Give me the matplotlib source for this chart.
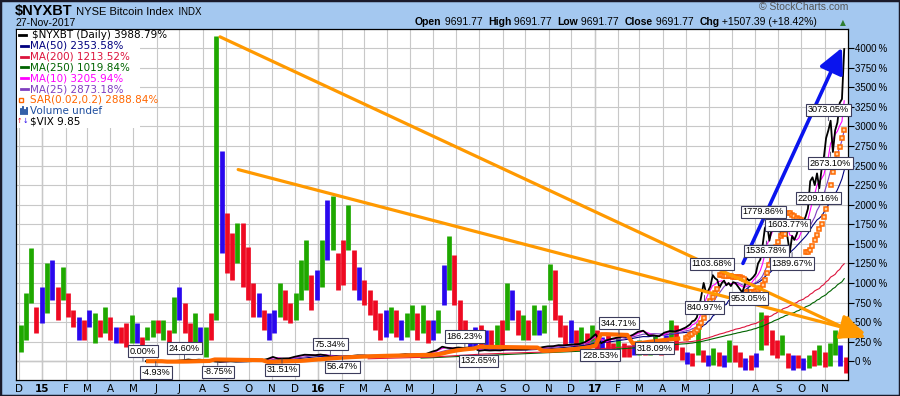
import matplotlib
matplotlib.use("Agg")
import matplotlib.pyplot as plt
import matplotlib.ticker as mticker
import matplotlib.transforms as mtransforms
from matplotlib.lines import Line2D
from matplotlib.patches import Rectangle
import numpy as np
import pandas as pd

# $NYXBT, % change since launch: weekly to Apr-2017, then every 3 days
nyx_weekly = [0, -1, -4, -5, 0, 0, 6, 12, 22, 14, 20, 15, 10, -3, -8, -5, -1, -5, -4, -2,
              1, 8, 13, 29, 55, 32, 36, 36, 55, 70, 83, 80, 77,
              85, 75, 57, 62, 54, 56, 68, 75, 74, 70, 71, 70, 72, 73, 74, 82, 90,
              85, 87, 85, 94, 120, 140, 185, 170, 165, 175, 170, 175, 170,
              133, 142, 137, 140, 138, 150, 150, 148, 149, 152, 164, 165, 180, 190,
              192, 205, 203, 210, 215, 220, 245, 285,
              345, 229, 265, 285, 300, 315, 310, 335, 375, 390, 330, 330, 318,
              365, 385, 380, 400]
nyx_recent = [430, 450, 470, 510, 520, 560, 690, 840, 1000, 880, 900, 960, 1100, 1060,
              1040, 940, 1000, 1030, 970, 1000, 960, 1010, 1000, 960, 920, 880, 960,
              1060, 1030, 1050, 1080, 1120, 1250, 1300, 1480, 1700, 1750, 1540, 1690,
              1780, 1800, 1900, 1620, 1760, 1700, 1580, 1390, 1600, 1550, 1620, 1720,
              1750, 1780, 1850, 1950, 2300, 2350, 2250, 2400, 2210, 2450, 2600, 2850,
              2950, 3073, 2673, 2950, 3050, 3300, 3350, 3989]

# $VIX overlay, weekly high / low on the % scale, bar colour g/r/b
vix_high = [459, 867, 1441, 689, 944, 1250, 1288, 944, 1199, 867,
            650, 561, 523, 650, 612, 523, 689, 561, 434, 434,
            485, 587, 485, 306, 434, 523, 523, 523, 395, 816,
            944, 740, 485, 612, 434, 434, 612, 4158, 2691, 1888,
            1633, 1760, 1760, 1454, 995, 867, 650, 612, 650, 995,
            906, 740, 867, 1288, 1543, 1097, 1160, 1543, 2054, 2117,
            1378, 1543, 1990, 1416, 1199, 1033, 906, 778, 612, 650,
            689, 650, 523, 612, 714, 612, 714, 523, 523, 650,
            1224, 1594, 1352, 778, 523, 395, 434, 459, 395, 395,
            459, 523, 995, 906, 650, 587, 523, 714, 650, 714,
            1237, 1160, 587, 459, 523, 395, 434, 357, 459, 395,
            306, 331, 230, 306, 230, 204, 230, 268, 230, 268,
            331, 268, 331, 523, 459, 179, 115, 102, 485, 140,
            77, 166, 115, 77, 268, 204, 115, 38, 77, 102,
            625, 587, 395, 268, 331, 102, 77, 77, 38, 77,
            140, 204, 115, 230, 395, 204, 51]
vix_low = [115, 268, 740, 357, 485, 612, 778, 523, 778, 561,
           434, 268, 268, 434, 230, 306, 357, 268, 230, 230,
           179, 230, 230, 204, 268, 306, 357, 268, 179, 357,
           523, 357, 230, 230, 179, 51, 268, 523, 1378, 1122,
           1033, 1250, 944, 778, 561, 561, 395, 268, 357, 561,
           523, 485, 523, 778, 906, 650, 778, 944, 1288, 1416,
           906, 970, 1416, 906, 778, 714, 587, 395, 268, 306,
           357, 306, 268, 306, 395, 268, 357, 230, 268, 357,
           714, 906, 714, 395, 230, 179, 179, 204, 140, 140,
           204, 204, 395, 523, 331, 268, 268, 331, 331, 357,
           778, 523, 306, 204, 230, 140, 179, 140, 179, 140,
           102, 115, 51, 13, 51, 51, 77, 77, 77, 77,
           115, 77, 140, 268, 140, 13, -38, -64, 77, -13,
           -64, -51, -64, -77, -13, -13, -77, -115, -115, -77,
           140, 204, 77, 38, 77, -89, -115, -89, -115, -89,
           -64, -51, -77, -64, 77, -64, -153]
vix_colors = ("gggrbgbrgr" "rbrbgrgrbr" "rgbrggrgrg" "brrgbgrgbr" "rgrrrbrbbg"
              "rrgggrbgbg" "rrgrbrrrrb" "grbggrgrbg" "bgrrrbbrbr" "grgbrgrgbg"
              "grrrbrgrgr" "brrgrrbgrg" "grbgrrbrgr" "bgrbgrrbrb" "grrrgrbrbg" "rgrggbr")

# pivot labels
pivot_text = ['0.00%', '-4.93%', '24.60%', '-8.75%', '31.51%', '75.34%', '56.47%',
              '186.23%', '132.65%', '228.53%', '344.71%', '318.09%', '840.97%',
              '1103.68%', '953.05%', '1536.78%', '1779.86%', '1603.77%', '1389.67%',
              '2209.16%', '2673.10%', '3073.05%']
pivot_dates = ['2015-05-14', '2015-05-31', '2015-07-08', '2015-08-21', '2015-11-14',
               '2016-01-17', '2016-02-02', '2016-07-13', '2016-07-31', '2017-01-08',
               '2017-02-02', '2017-03-21', '2017-05-26', '2017-06-05', '2017-07-23',
               '2017-08-16', '2017-08-12', '2017-09-13', '2017-09-19', '2017-10-24',
               '2017-11-09', '2017-11-06']
pivot_dy = [10, -11, 11, -10, -11, 11, -10, 10, -10, -12, 11, -12, -12, 11, -12,
            -10, 10, 11, -11, -10, -11, 11]

# hand-drawn trend lines: start date, start %, end date, end %
trend_lines = [('2015-08-24', 4145, '2017-12-25', 300, '#ff9900', 2.3),
               ('2015-09-17', 2449, '2017-12-25', 357, '#ff9900', 2.3),
               ('2017-07-16', 1250, '2017-11-24', 4005, '#0a14ee', 2.6)]

legend_names = [r'\$NYXBT (Daily)', 'MA(50)', 'MA(200)', 'MA(250)', 'MA(10)', 'MA(25)',
                'SAR(0.02,0.2)', 'Volume', r'\$VIX']
legend_vals = ['3988.79%', '2353.58%', '1213.52%', '1019.84%', '3205.94%', '2873.18%',
               '2888.84%', 'undef', '9.85']
legend_cols = ['black', '#00007f', '#dc143c', '#006400', '#ff00ff', '#7f3fbf',
               '#ff6600', '#1f4f9f', 'black']

# ---------------------------------------------------------------
nyx_dates = pd.date_range('2015-05-18', periods=len(nyx_weekly), freq='7D').append(
    pd.date_range('2017-05-01', periods=len(nyx_recent), freq='3D'))
nyx = pd.Series(nyx_weekly + nyx_recent, index=nyx_dates, dtype=float)
gap = np.r_[(nyx.index[1:] - nyx.index[:-1]).days, 3].astype(float)
w = pd.Series(gap, index=nyx.index)


def moving_avg(days):
    m = (nyx * w).rolling(f'{days}D').sum() / w.rolling(f'{days}D').sum()
    m[m.index < nyx.index[0] + pd.Timedelta(days=days)] = np.nan
    return m


def psar(v, step=0.02, cap=0.2):
    out = np.empty(len(v))
    up, af, ep = True, step, v[0]
    out[0] = v[0]
    for i in range(1, len(v)):
        s = out[i - 1] + af * (ep - out[i - 1])
        if up:
            s = min(s, v[i - 1], v[max(i - 2, 0)])
            if v[i] < s:
                up, s, ep, af = False, ep, v[i], step
            elif v[i] > ep:
                ep, af = v[i], min(af + step, cap)
        else:
            s = max(s, v[i - 1], v[max(i - 2, 0)])
            if v[i] > s:
                up, s, ep, af = True, ep, v[i], step
            elif v[i] < ep:
                ep, af = v[i], min(af + step, cap)
        out[i] = s
    return out


fig = plt.figure(figsize=(9, 3.96), dpi=100, facecolor='#a4c8f0')
ax = fig.add_axes([16 / 900, 16 / 396, 832 / 900, 351 / 396])
ax.set_facecolor('white')

months = pd.date_range('2014-12-01', '2017-11-30', freq='MS')
ax.set_xticks(months)
ax.set_xticklabels([m.strftime('%y') if m.month == 1 else m.strftime('%b')[0] for m in months])
for lab, m in zip(ax.get_xticklabels(), months):
    if m.month == 1:
        lab.set_fontweight('bold')
ax.set_xlim(pd.Timestamp('2014-11-27'), pd.Timestamp('2017-12-02'))
ax.set_ylim(-240, 4245)
ax.yaxis.set_major_locator(mticker.MultipleLocator(250))
ax.yaxis.set_major_formatter(mticker.FuncFormatter(lambda v, p: f'{v:.0f}\u2009%'))
ax.yaxis.tick_right()
ax.tick_params(axis='y', direction='out', length=4, width=0.8, labelsize=7, pad=1)
ax.tick_params(axis='x', length=0, labelsize=7.5, pad=3)
for lab in ax.get_yticklabels():
    lab.set_family(['Liberation Sans', 'DejaVu Sans'])
ax.grid(True, color='#c8c8c8', lw=0.8, zorder=0)
ax.set_axisbelow(True)
for m in months[months.month == 1]:
    ax.axvline(m, color='#999999', lw=0.9, zorder=0.5)
ax.axhline(0, color='#808080', lw=0.9, zorder=0.5)
for sp in ax.spines.values():
    sp.set_color('black')
    sp.set_linewidth(0.9)

# VIX bars
vix_dates = pd.date_range('2014-12-03', periods=len(vix_high), freq='7D')
cmap = {'g': '#1fa800', 'r': '#ee0a22', 'b': '#2a08ee'}
ax.vlines(vix_dates, vix_low, vix_high, colors=[cmap[c] for c in vix_colors], lw=3.4, zorder=2)

# moving averages
for days, col in [(362, '#006400'), (290, '#dc143c'), (70, '#00007f'), (35, '#7f3fbf'), (14, '#ff00ff')]:
    ma = moving_avg(days)
    ax.plot(ma.index, ma.values, color=col, lw=0.8, zorder=3)

ax.plot(nyx.index, nyx.values, color='black', lw=1.3, zorder=4)

# parabolic SAR
sar = pd.Series(psar(nyx.values), index=nyx.index)
old = sar.index < pd.Timestamp('2017-05-01')
ax.plot(sar.index[old], sar.values[old], color='#ff6a00', lw=3, zorder=5,
        solid_capstyle='butt', solid_joinstyle='round')
ax.plot(sar.index[~old], sar.values[~old], ls='none', marker='s', ms=3.4,
        mfc='#ffd0a0', mec='#ff6a00', mew=1.1, zorder=5)

# trend lines
for d0, v0, d1, v1, col, lw in trend_lines:
    ax.annotate('', xy=(pd.Timestamp(d1), v1), xytext=(pd.Timestamp(d0), v0),
                arrowprops=dict(arrowstyle='-|>,head_length=0.9,head_width=0.45', color=col,
                                lw=lw, shrinkA=0, shrinkB=0, mutation_scale=17),
                annotation_clip=False, zorder=8)

# pivot labels
for txt, d, dy in zip(pivot_text, pivot_dates, pivot_dy):
    val = float(txt.rstrip('%'))
    ax.annotate(txt, xy=(pd.Timestamp(d), val), xytext=(0, dy), textcoords='offset pixels',
                ha='center', va='center', fontsize=6.6, family=['Liberation Sans', 'DejaVu Sans'],
                bbox=dict(boxstyle='square,pad=0.18', fc='white', ec='#3c3c5c', lw=0.8),
                arrowprops=dict(arrowstyle='-', color='#3c3c5c', lw=0.6, shrinkA=0, shrinkB=0),
                annotation_clip=False, zorder=9)

# legend block
px = mtransforms.IdentityTransform()
ax.add_patch(Rectangle((17, 396 - 128), 123, 98, transform=px, fc='white', ec='none', zorder=6))
row_y = [396 - (35 + 10.8 * k) for k in range(len(legend_names))]
for k, (nm, vl, col) in enumerate(zip(legend_names, legend_vals, legend_cols)):
    y = row_y[k]
    tx = 32 if k == 0 else 30
    fig.text(tx, y, f'{nm} {vl}', transform=px, color=col, fontsize=7.5,
             va='center', ha='left', zorder=10)
    if k <= 5:
        x0 = 19 if k == 0 else 21
        fig.add_artist(Line2D([x0, x0 + 7], [y, y], transform=px, color=col, lw=2))
    elif k == 6:
        fig.add_artist(Line2D([21], [y], transform=px, marker='s', ms=2.5, mfc='white',
                              mec=col, mew=1, ls='none'))
    elif k == 7:
        for j, h in enumerate([5, 7, 4, 6]):
            fig.add_artist(Line2D([21 + 2 * j, 21 + 2 * j], [y - 3, y - 3 + h], transform=px,
                                  color=col, lw=1.3))
    else:
        fig.text(16.5, y, '\u2191', transform=px, color='#ee0a22', fontsize=4.8, va='center', ha='left')
        fig.text(22.5, y, '\u2193', transform=px, color='#2a08ee', fontsize=4.8, va='center', ha='left')

# header
renderer = fig.canvas.get_renderer()


def run_text(x, y, pieces):
    for txt, kw in pieces:
        t = fig.text(x, y, txt, transform=px, va='baseline', **kw)
        x = t.get_window_extent(renderer).x1
    return x


hf = ['Liberation Sans', 'DejaVu Sans']
run_text(15, 381, [(r'\$NYXBT', dict(fontsize=10.5, weight='bold', family=hf)),
                   (' NYSE Bitcoin Index', dict(fontsize=8, family=hf)),
                   ('  INDX', dict(fontsize=7, family=hf))])
fig.text(15, 370, '27-Nov-2017', transform=px, fontsize=7.5, family=hf, va='baseline')
fig.text(848, 386, '\u00a9 StockCharts.com', transform=px, fontsize=7.5, family=hf,
         color='#555555', ha='right', va='baseline')
quote = [('Open', 1), (' 9691.77  ', 0), ('High', 1), (' 9691.77  ', 0), ('Low', 1),
         (' 9691.77  ', 0), ('Close', 1), (' 9691.77  ', 0), ('Chg', 1), (' +1507.39 (+18.42%)', 0)]
run_text(415, 371, [(t, dict(fontsize=7.5, family=hf, weight='bold' if b else 'normal'))
                    for t, b in quote])
fig.text(843, 371, '\u25b2', transform=px, fontsize=5.5, color='#2e7d32', ha='center', va='baseline')

fig.add_artist(Rectangle((0, 0), 1, 1, transform=fig.transFigure, fill=False,
                         ec='#1a1a2a', lw=2.5))

fig.savefig('out.png', dpi=100, facecolor=fig.get_facecolor())
